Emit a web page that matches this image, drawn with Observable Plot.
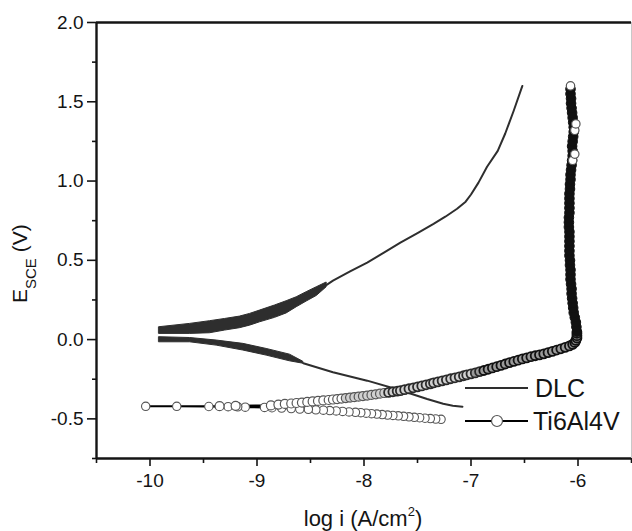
<!DOCTYPE html>
<html>
<head>
<meta charset="utf-8">
<script src="https://cdn.jsdelivr.net/npm/d3@7"></script>
<script src="https://cdn.jsdelivr.net/npm/@observablehq/plot@0.6"></script>
<style>
  html, body { margin: 0; padding: 0; background: #fff; }
</style>
</head>
<body>
<script>
// ---------------- DATA ----------------
// DLC anodic branch: noisy band near Ecorr (x, lower edge, upper edge)
const dlcAnodicBandX  = [-9.913, -9.626, -9.439, -9.299, -9.159, -9.065, -8.972, -8.832, -8.723, -8.629, -8.536, -8.442, -8.349];
const dlcAnodicBandLo = [0.036, 0.036, 0.040, 0.057, 0.072, 0.088, 0.109, 0.137, 0.165, 0.204, 0.240, 0.275, 0.330];
const dlcAnodicBandHi = [0.078, 0.099, 0.116, 0.130, 0.145, 0.162, 0.183, 0.215, 0.242, 0.267, 0.299, 0.330, 0.360];
// DLC anodic branch: smooth part
const dlcAnodicX = [-8.349, -8.29, -8.13, -7.97, -7.81, -7.66, -7.50, -7.35, -7.24, -7.13, -7.05, -7.00, -6.93, -6.85, -6.75, -6.68, -6.60, -6.52];
const dlcAnodicY = [0.345, 0.372, 0.430, 0.486, 0.550, 0.612, 0.672, 0.730, 0.775, 0.825, 0.870, 0.915, 0.990, 1.090, 1.190, 1.300, 1.445, 1.600];
// DLC cathodic branch: noisy band near Ecorr
const dlcCathodicBandX  = [-9.913, -9.626, -9.377, -9.128, -8.910, -8.692, -8.567];
const dlcCathodicBandHi = [0.015, 0.010, -0.006, -0.027, -0.059, -0.095, -0.140];
const dlcCathodicBandLo = [-0.017, -0.017, -0.038, -0.069, -0.101, -0.137, -0.152];
// DLC cathodic branch: smooth part
const dlcCathodicX = [-8.567, -8.29, -7.97, -7.66, -7.41, -7.26, -7.17, -7.08];
const dlcCathodicY = [-0.149, -0.206, -0.259, -0.320, -0.375, -0.405, -0.417, -0.423];

// Ti6Al4V cathodic branch (scan start, high current -> Ecorr)
const tiCathodicX = [-7.28, -7.33, -7.38, -7.43, -7.48, -7.53, -7.58, -7.63, -7.68, -7.73, -7.78, -7.83, -7.88, -7.93, -7.98, -8.03, -8.08, -8.14, -8.20, -8.26, -8.32, -8.38, -8.45, -8.52, -8.60, -8.68, -8.77, -8.86, -8.93, -9.11, -9.18, -9.27, -9.45, -9.75, -10.04];
const tiCathodicY = [-0.503, -0.501, -0.498, -0.496, -0.493, -0.490, -0.487, -0.484, -0.481, -0.478, -0.476, -0.473, -0.470, -0.467, -0.464, -0.461, -0.459, -0.456, -0.453, -0.450, -0.448, -0.445, -0.443, -0.440, -0.438, -0.435, -0.432, -0.430, -0.428, -0.426, -0.424, -0.423, -0.422, -0.421, -0.421];
// Ti6Al4V anodic branch (Ecorr -> passive knee)
const tiAnodicX = [-9.35, -9.20, -8.87, -8.80, -8.74, -8.68, -8.63, -8.58, -8.53, -8.48, -8.43, -8.38, -8.33, -8.29, -8.25, -8.21, -8.17, -8.13, -8.09, -8.05, -8.01, -7.97, -7.93, -7.89, -7.85, -7.81, -7.77, -7.73, -7.69, -7.66, -7.62, -7.58, -7.54, -7.50, -7.46, -7.42, -7.38, -7.35, -7.31, -7.27, -7.23, -7.19, -7.15, -7.11, -7.07, -7.04, -7.00, -6.96, -6.92, -6.88, -6.84, -6.80, -6.76, -6.72, -6.68, -6.64, -6.60, -6.56, -6.52, -6.48, -6.44, -6.40, -6.36, -6.32, -6.28, -6.24, -6.20, -6.16, -6.12, -6.08, -6.05, -6.03, -6.02, -6.01, -6.01, -6.01];
const tiAnodicY = [-0.420, -0.418, -0.415, -0.410, -0.406, -0.403, -0.400, -0.397, -0.393, -0.390, -0.387, -0.384, -0.381, -0.378, -0.375, -0.372, -0.369, -0.366, -0.363, -0.360, -0.356, -0.353, -0.349, -0.345, -0.341, -0.337, -0.333, -0.329, -0.325, -0.322, -0.316, -0.310, -0.304, -0.298, -0.292, -0.285, -0.279, -0.273, -0.267, -0.260, -0.254, -0.247, -0.241, -0.235, -0.228, -0.223, -0.216, -0.210, -0.202, -0.195, -0.187, -0.179, -0.171, -0.163, -0.154, -0.145, -0.138, -0.130, -0.122, -0.115, -0.108, -0.102, -0.096, -0.090, -0.082, -0.074, -0.066, -0.058, -0.049, -0.040, -0.030, -0.018, -0.005, 0.010, 0.025, 0.040];
// Ti6Al4V passive region (dense, nearly vertical)
const tiPassiveX = [-6.010, -6.015, -6.020, -6.030, -6.040, -6.045, -6.050, -6.055, -6.060, -6.060, -6.065, -6.070, -6.070, -6.070, -6.075, -6.075, -6.080, -6.080, -6.080, -6.080, -6.080, -6.080, -6.085, -6.085, -6.085, -6.080, -6.080, -6.080, -6.080, -6.080, -6.075, -6.075, -6.070, -6.070, -6.065, -6.060, -6.055, -6.050, -6.050, -6.055, -6.050, -6.045, -6.040, -6.040, -6.045, -6.050, -6.055, -6.060, -6.065, -6.065, -6.070, -6.070];
const tiPassiveY = [0.05, 0.08, 0.11, 0.14, 0.17, 0.20, 0.23, 0.26, 0.29, 0.32, 0.35, 0.38, 0.41, 0.44, 0.47, 0.50, 0.53, 0.56, 0.59, 0.62, 0.65, 0.68, 0.71, 0.74, 0.77, 0.80, 0.83, 0.86, 0.89, 0.92, 0.95, 0.98, 1.01, 1.04, 1.07, 1.10, 1.13, 1.16, 1.19, 1.22, 1.25, 1.28, 1.31, 1.34, 1.37, 1.40, 1.43, 1.46, 1.49, 1.52, 1.55, 1.58];
// open markers still visible on the passive column
const tiOpenX = [-6.05, -6.03, -6.03, -6.02, -6.07];
const tiOpenY = [1.13, 1.17, 1.32, 1.36, 1.60];

// axes
const xMajor = [-10, -9, -8, -7, -6];
const xMajorLabels = ["-10", "-9", "-8", "-7", "-6"];
const xMinor = [-10.5, -9.5, -8.5, -7.5, -6.5, -5.5];
const yMajor = [-0.5, 0, 0.5, 1.0, 1.5, 2.0];
const yMajorLabels = ["-0.5", "0.0", "0.5", "1.0", "1.5", "2.0"];
const yMinor = [-0.75, -0.25, 0.25, 0.75, 1.25, 1.75];
const xDomain = [-10.5, -5.5];
const yDomain = [-0.75, 2.0];
const seriesNames = ["DLC", "Ti6Al4V"];

// ---------------- tables built from the arrays ----------------
const band = (xs, lo, hi) => xs.map((x, i) => ({x, lo: lo[i], hi: hi[i]}));
const pts = (xs, ys) => xs.map((x, i) => ({x, y: ys[i]}));
const dlcAB = band(dlcAnodicBandX, dlcAnodicBandLo, dlcAnodicBandHi);
const dlcCB = band(dlcCathodicBandX, dlcCathodicBandLo, dlcCathodicBandHi);
const dlcA = pts(dlcAnodicX, dlcAnodicY);
const dlcC = pts(dlcCathodicX, dlcCathodicY);
const tiC = pts(tiCathodicX, tiCathodicY);
const tiA = pts(tiAnodicX, tiAnodicY);
const tiP = pts(tiPassiveX, tiPassiveY);
const tiO = pts(tiOpenX, tiOpenY);
const tiAll = tiC.concat(tiA, tiP, [tiO[tiO.length - 1]]);

const FONT = "'Liberation Sans', Arial, Helvetica, sans-serif";
const INK = "#141414";
const DLC_COLOR = "#2e2e2e";

const svg = Plot.plot({
  width: 632,
  height: 531,
  marginLeft: 96,
  marginRight: 1,
  marginTop: 22,
  marginBottom: 73,
  style: {fontFamily: FONT, fontSize: "19px", color: INK, background: "#fff"},
  x: {domain: xDomain, label: null},
  y: {domain: yDomain, label: null},
  marks: [
    // minor ticks
    Plot.axisX(xMinor, {tickSize: 5, tickFormat: () => "", label: null, stroke: INK, strokeWidth: 1.6}),
    Plot.axisY(yMinor, {tickSize: 4, tickFormat: () => "", label: null, stroke: INK, strokeWidth: 1.6}),
    // major ticks + labels
    Plot.axisX(xMajor, {tickSize: 8, tickPadding: 7, tickFormat: d => xMajorLabels[xMajor.indexOf(d)], label: null, stroke: INK, strokeWidth: 1.6, fontSize: 19}),
    Plot.axisY(yMajor, {tickSize: 9, tickPadding: 4, tickFormat: d => yMajorLabels[yMajor.indexOf(d)], label: null, stroke: INK, strokeWidth: 1.6, fontSize: 19}),
    // frame
    Plot.ruleX([xDomain[1]], {stroke: "#c8c8c8", strokeWidth: 1}),
    Plot.ruleY([yDomain[1]], {stroke: INK, strokeWidth: 2.4}),
    Plot.ruleX([xDomain[0]], {stroke: INK, strokeWidth: 2.4}),
    Plot.ruleY([yDomain[0]], {stroke: INK, strokeWidth: 2.4}),
    // DLC
    Plot.areaY(dlcAB, {x: "x", y1: "lo", y2: "hi", fill: DLC_COLOR, stroke: DLC_COLOR, strokeWidth: 1}),
    Plot.areaY(dlcCB, {x: "x", y1: "lo", y2: "hi", fill: DLC_COLOR, stroke: DLC_COLOR, strokeWidth: 1}),
    Plot.line(dlcA, {x: "x", y: "y", stroke: DLC_COLOR, strokeWidth: 2}),
    Plot.line(dlcC, {x: "x", y: "y", stroke: DLC_COLOR, strokeWidth: 2}),
    // Ti6Al4V
    Plot.line(tiAll, {x: "x", y: "y", stroke: "#000", strokeWidth: 2}),
    Plot.dot(tiC, {x: "x", y: "y", r: 4.2, fill: "#fff", stroke: "#555", strokeWidth: 1.1}),
    Plot.dot(tiA, {x: "x", y: "y", r: 4.5,
      fill: d => (d.x > -7.0 ? "#9a9a9a" : d.x > -8.2 ? "#d0d0d0" : "#fff"),
      stroke: d => (d.x > -6.9 ? "#111" : d.x > -7.8 ? "#2a2a2a" : "#555"),
      strokeWidth: d => (d.x > -7.8 ? 1.8 : 1.2)}),
    Plot.dot(tiP, {x: "x", y: "y", r: 4.8, fill: "#111", stroke: "#111", strokeWidth: 1}),
    Plot.dot(tiO, {x: "x", y: "y", r: 4.2, fill: "#fff", stroke: "#555", strokeWidth: 1.2})
  ]
});
document.body.appendChild(svg);

// ---------------- titles and legend ----------------
const s = d3.select(svg);
// y title: E_SCE (V)
const yt = s.append("text")
  .attr("transform", "translate(27,303) rotate(-90)")
  .attr("text-anchor", "start")
  .attr("font-family", FONT).attr("font-size", 21).attr("fill", INK);
yt.append("tspan").text("E");
yt.append("tspan").attr("font-size", 15).attr("dy", 9).text("SCE");
yt.append("tspan").attr("dy", -9).text(" (V)");
// x title: log i (A/cm2)
const xt = s.append("text")
  .attr("x", 363).attr("y", 526).attr("text-anchor", "middle")
  .attr("font-family", FONT).attr("font-size", 22).attr("fill", INK);
xt.append("tspan").text("log i (A/cm");
xt.append("tspan").attr("font-size", 13).attr("dy", -10).text("2");
xt.append("tspan").attr("dy", 10).text(")");

// legend
const lg = s.append("g").attr("font-family", FONT).attr("font-size", 25).attr("fill", INK).attr("text-anchor", "start");
lg.append("line").attr("x1", 465).attr("x2", 528).attr("y1", 388).attr("y2", 388)
  .attr("stroke", DLC_COLOR).attr("stroke-width", 2);
lg.append("text").attr("x", 535).attr("y", 388).attr("dy", "0.36em").text(seriesNames[0]);
lg.append("line").attr("x1", 465).attr("x2", 528).attr("y1", 421).attr("y2", 421)
  .attr("stroke", "#000").attr("stroke-width", 2);
lg.append("circle").attr("cx", 497).attr("cy", 421).attr("r", 5.5)
  .attr("fill", "#fff").attr("stroke", "#555").attr("stroke-width", 1.2);
lg.append("text").attr("x", 533).attr("y", 421).attr("dy", "0.36em").text(seriesNames[1]);
</script>
</body>
</html>
